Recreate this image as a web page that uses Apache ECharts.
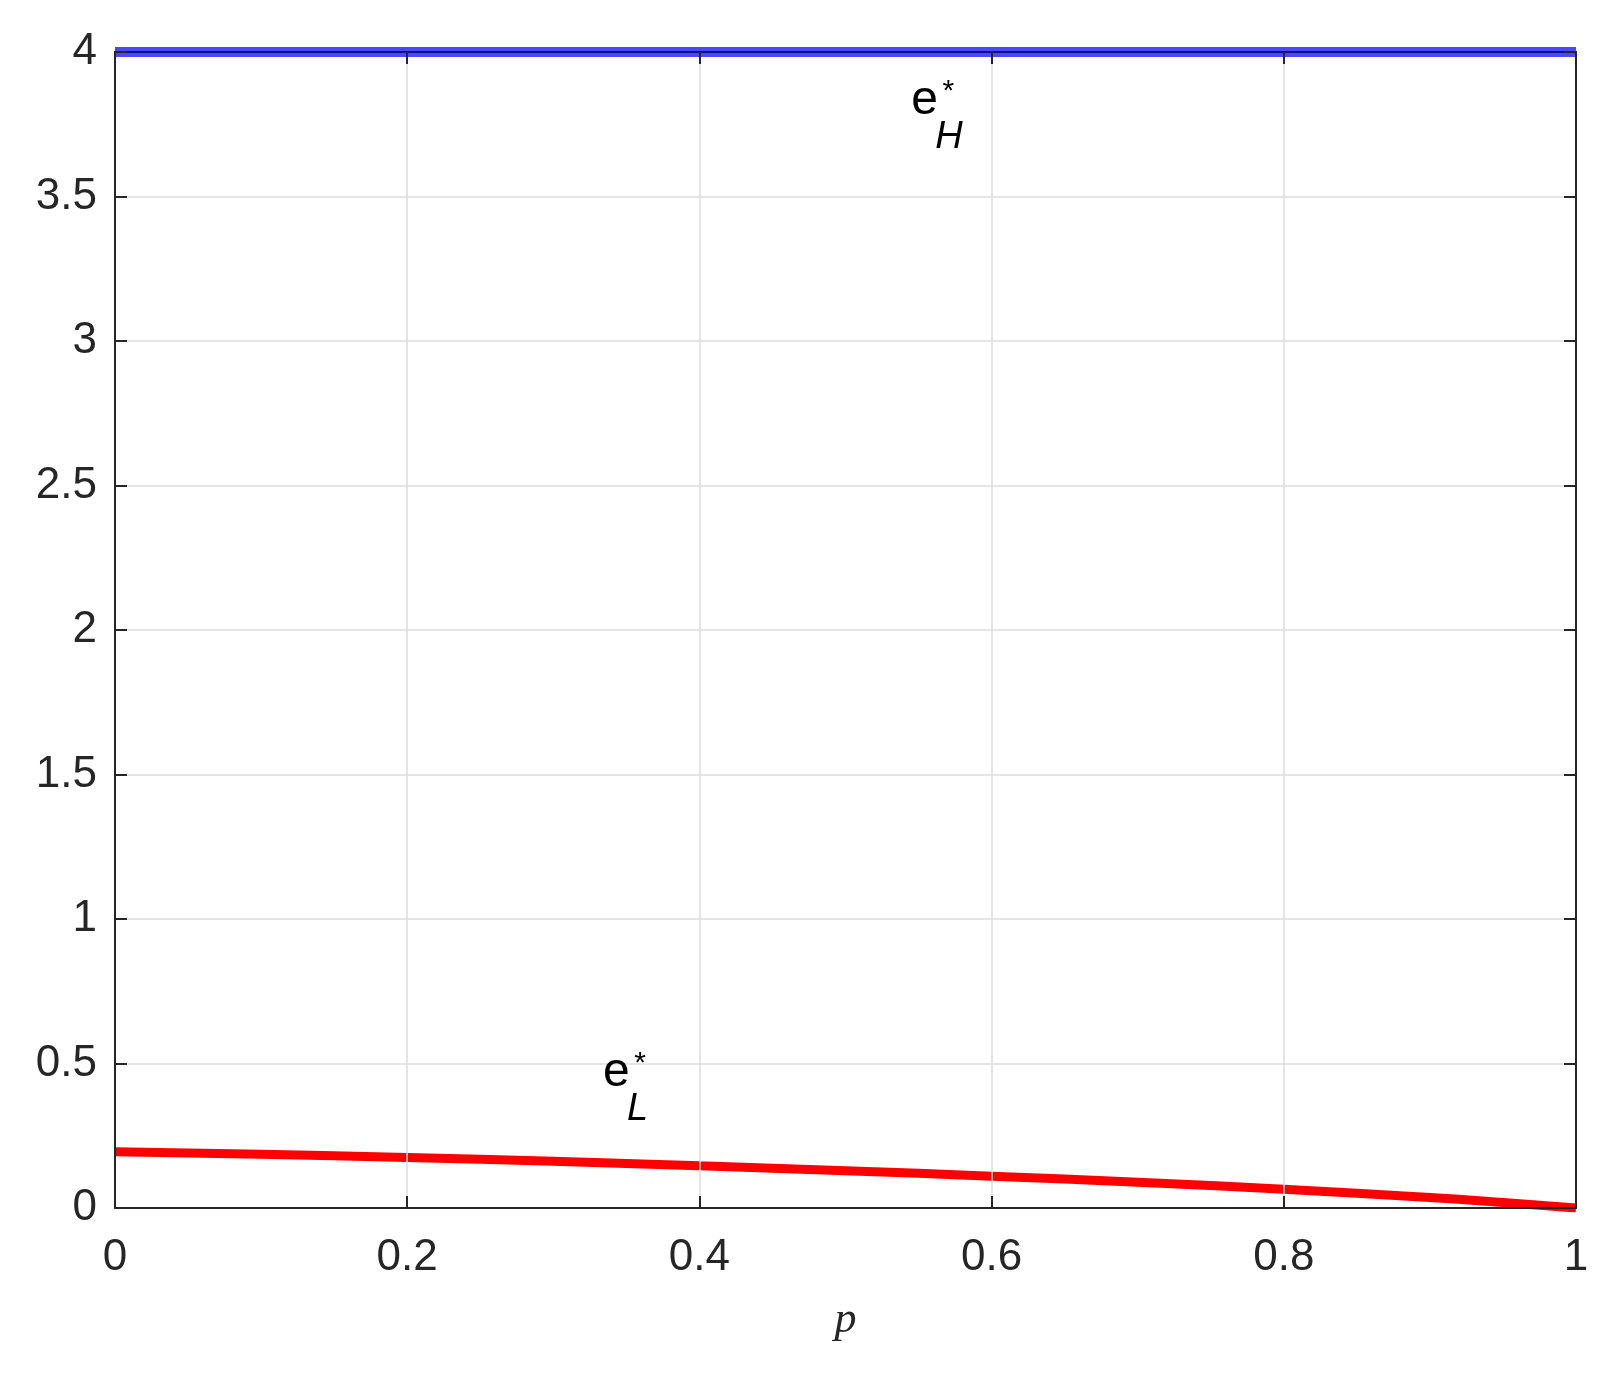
<!DOCTYPE html>
<html>
<head>
<meta charset="utf-8">
<script src="https://cdn.jsdelivr.net/npm/echarts@6/dist/echarts.min.js"></script>
<style>
html,body{margin:0;padding:0;background:#fff;}
#chart{width:1611px;height:1375px;}
</style>
</head>
<body>
<div id="chart"></div>
<script>
// Data
const pValues = [0, 0.1, 0.2, 0.3, 0.4, 0.5, 0.6, 0.7, 0.8, 0.9, 0.95, 1.0];
const eHigh   = [4, 4, 4, 4, 4, 4, 4, 4, 4, 4, 4, 4];
const eLow    = [0.195, 0.186, 0.175, 0.162, 0.146, 0.129, 0.110, 0.089, 0.065, 0.036, 0.019, 0.0];
const xTicks  = [0, 0.2, 0.4, 0.6, 0.8, 1];
const yTicks  = [0, 0.5, 1, 1.5, 2, 2.5, 3, 3.5, 4];
const labelH  = {base: 'e', sub: 'H', sup: '*', at: [0.545, 3.747]};
const labelL  = {base: 'e', sub: 'L', sup: '*', at: [0.334, 0.384]};
const xName   = 'p';

const chart = echarts.init(document.getElementById('chart'), null, {renderer: 'canvas'});
const axisColor = '#262626';
const tickFont = {fontFamily: 'Liberation Sans, Arial, sans-serif', fontSize: 44, color: axisColor};

const option = {
  animation: false,
  backgroundColor: '#ffffff',
  grid: {left: 115, right: 35, top: 52, bottom: 167, containLabel: false},
  xAxis: [
    {
      type: 'value', min: xTicks[0], max: xTicks[xTicks.length - 1], interval: 0.2,
      position: 'bottom', z: 5,
      name: xName, nameLocation: 'middle', nameGap: 90,
      nameTextStyle: {fontFamily: 'Liberation Serif, Times New Roman, serif', fontStyle: 'italic', fontSize: 44, color: axisColor},
      axisLine: {show: true, onZero: false, lineStyle: {color: axisColor, width: 2}},
      axisTick: {show: true, inside: true, length: 12, lineStyle: {color: axisColor, width: 2}},
      axisLabel: Object.assign({margin: 28, formatter: v => String(v)}, tickFont),
      splitLine: {show: true, lineStyle: {color: '#dcdcdc', width: 1.5}}
    },
    {
      type: 'value', min: xTicks[0], max: xTicks[xTicks.length - 1], interval: 0.2,
      position: 'top', z: 5,
      axisLine: {show: true, onZero: false, lineStyle: {color: '#10108a', width: 2}},
      axisTick: {show: true, inside: true, length: 12, lineStyle: {color: axisColor, width: 2}},
      axisLabel: {show: false},
      splitLine: {show: false}
    }
  ],
  yAxis: [
    {
      type: 'value', min: yTicks[0], max: yTicks[yTicks.length - 1], interval: 0.5,
      position: 'left', z: 5,
      axisLine: {show: true, onZero: false, lineStyle: {color: axisColor, width: 2}},
      axisTick: {show: true, inside: true, length: 12, lineStyle: {color: axisColor, width: 2}},
      axisLabel: Object.assign({margin: 18, formatter: v => String(v)}, tickFont),
      splitLine: {show: true, lineStyle: {color: '#dcdcdc', width: 1.5}}
    },
    {
      type: 'value', min: yTicks[0], max: yTicks[yTicks.length - 1], interval: 0.5,
      position: 'right', z: 5,
      axisLine: {show: true, onZero: false, lineStyle: {color: axisColor, width: 2}},
      axisTick: {show: true, inside: true, length: 12, lineStyle: {color: axisColor, width: 2}},
      axisLabel: {show: false},
      splitLine: {show: false}
    }
  ],
  series: [
    {
      name: 'eH', type: 'line', xAxisIndex: 0, yAxisIndex: 0,
      data: pValues.map((p, i) => [p, eHigh[i]]),
      showSymbol: false, smooth: false, z: 2,
      lineStyle: {color: '#4848ff', width: 10}
    },
    {
      name: 'eL', type: 'line', xAxisIndex: 0, yAxisIndex: 0,
      data: pValues.map((p, i) => [p, eLow[i]]),
      showSymbol: false, smooth: true, z: 2,
      lineStyle: {color: '#ff0000', width: 9}
    }
  ]
};
chart.setOption(option);

function annot(lbl) {
  const pt = chart.convertToPixel({xAxisIndex: 0, yAxisIndex: 0}, lbl.at);
  const x = pt[0], y = pt[1];
  return [
    {type: 'text', z: 10, style: {x: x, y: y, text: lbl.base, textAlign: 'left', textVerticalAlign: 'bottom',
      font: '48px "Liberation Sans", Arial, sans-serif', fill: '#000'}},
    {type: 'text', z: 10, style: {x: x + 24, y: y + 31, text: lbl.sub, textAlign: 'left', textVerticalAlign: 'bottom',
      font: 'italic 38px "Liberation Sans", Arial, sans-serif', fill: '#000'}},
    {type: 'text', z: 10, style: {x: x + 37, y: y - 33, text: lbl.sup, textAlign: 'center', textVerticalAlign: 'middle',
      font: '30px "Liberation Sans", Arial, sans-serif', fill: '#000'}}
  ];
}
chart.setOption({graphic: {elements: annot(labelH).concat(annot(labelL))}});
</script>
</body>
</html>
